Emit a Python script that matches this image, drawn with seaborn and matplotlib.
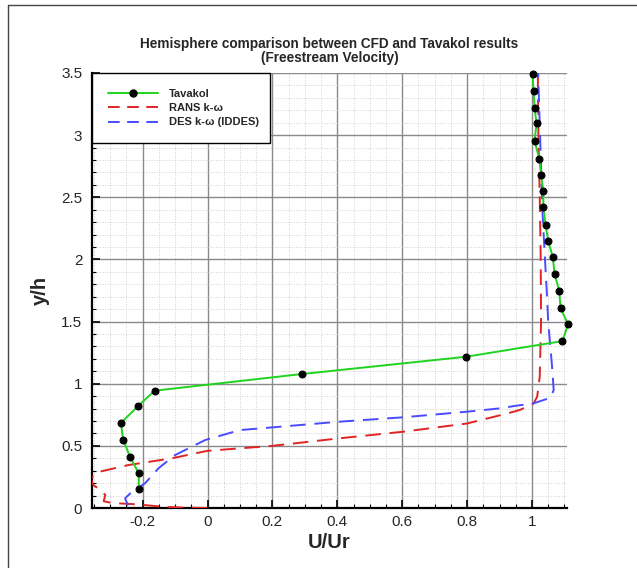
import numpy as np
import pandas as pd
import matplotlib
matplotlib.use("Agg")
import matplotlib.pyplot as plt
from matplotlib.ticker import MultipleLocator, FuncFormatter
from matplotlib.lines import Line2D
import seaborn as sns

# Tavakol measured profile (U/Ur, y/h)
tav_u = [1.002, 1.005, 1.008, 1.014, 1.008, 1.023, 1.028, 1.035, 1.035, 1.042,
         1.050, 1.064, 1.070, 1.084, 1.088, 1.111, 1.094, 0.797, 0.291, -0.163,
         -0.214, -0.267, -0.260, -0.239, -0.212, -0.212]
tav_y = [3.49, 3.355, 3.22, 3.095, 2.95, 2.81, 2.68, 2.55, 2.42, 2.28,
         2.15, 2.02, 1.88, 1.75, 1.61, 1.478, 1.343, 1.217, 1.078, 0.944,
         0.82, 0.684, 0.55, 0.413, 0.279, 0.15]

# RANS k-omega profile
rans_u = [0.0, -0.07, -0.14, -0.22, -0.295, -0.32, -0.315, -0.336, -0.352, -0.36,
          -0.336, -0.243, -0.11, 0.0, 0.2, 0.404, 0.604, 0.80, 0.90, 0.944,
          0.964, 1.005, 1.016, 1.024, 1.028, 1.027, 1.024, 1.020, 1.018]
rans_y = [0.0, 0.003, 0.01, 0.03, 0.04, 0.055, 0.105, 0.155, 0.185, 0.24,
          0.29, 0.346, 0.40, 0.46, 0.50, 0.56, 0.614, 0.68, 0.745, 0.775,
          0.79, 0.842, 0.895, 1.056, 1.5, 2.0, 2.5, 3.0, 3.5]

# DES k-omega (IDDES) profile
des_u = [-0.245, -0.254, -0.238, -0.192, -0.151, -0.10, -0.007, 0.1, 0.224, 0.404,
         0.604, 0.80, 0.903, 0.944, 1.005, 1.057, 1.067, 1.062, 1.050, 1.047,
         1.032, 1.025, 1.019]
des_y = [0.02, 0.078, 0.118, 0.2, 0.32, 0.426, 0.547, 0.627, 0.654, 0.694,
         0.73, 0.775, 0.802, 0.82, 0.842, 0.887, 0.949, 1.137, 1.5, 1.67,
         2.4, 3.0, 3.5]

labels = ["Tavakol", "RANS k-\u03c9", "DES k-\u03c9 (IDDES)"]
x_ticks = [-0.2, 0, 0.2, 0.4, 0.6, 0.8, 1]
y_ticks = [0, 0.5, 1, 1.5, 2, 2.5, 3, 3.5]

sns.set_style("white")
plt.rcParams["font.family"] = ["Liberation Sans", "DejaVu Sans"]

fig = plt.figure(figsize=(6.37, 5.68), dpi=100)
ax = fig.add_axes([92 / 637, 1 - 508 / 568, (567 - 92) / 637, (508 - 73) / 568])

green, red, blue = "#1fd41f", "#e02424", "#4a4aff"
dash = (8, 4.5)
legend_dash = (6, 3.85)

sns.lineplot(x=rans_u, y=rans_y, sort=False, estimator=None, ax=ax,
             color=red, lw=1.4, zorder=3)
ax.lines[-1].set_dashes(dash)
sns.lineplot(x=des_u, y=des_y, sort=False, estimator=None, ax=ax,
             color=blue, lw=1.4, zorder=3)
ax.lines[-1].set_dashes(dash)
sns.lineplot(x=tav_u, y=tav_y, sort=False, estimator=None, ax=ax,
             color=green, lw=1.4, marker="o", markersize=5,
             markerfacecolor="black", markeredgecolor="black", zorder=4)
ax.lines[-1].set_clip_on(False)

ax.set_xlim(-0.356, 1.108)
ax.set_ylim(0, 3.5)
ax.set_xticks(x_ticks)
ax.set_yticks(y_ticks)
ax.xaxis.set_minor_locator(MultipleLocator(0.05))
ax.yaxis.set_minor_locator(MultipleLocator(0.1))
fmt = FuncFormatter(lambda v, p: ("%g" % v).replace("\u2212", "-"))
ax.xaxis.set_major_formatter(fmt)
ax.yaxis.set_major_formatter(fmt)

ax.grid(which="major", color="#8a8a8a", lw=1.0, ls="-", zorder=1)
ax.grid(which="minor", color="#cfcfcf", lw=0.7, ls=":", zorder=1)
ax.set_axisbelow(True)

for s in ["top", "right"]:
    ax.spines[s].set_visible(False)
for s in ["left", "bottom"]:
    ax.spines[s].set_color("black")
    ax.spines[s].set_linewidth(1.6)

ax.tick_params(which="major", direction="in", length=6, width=1.2, color="black",
               labelsize=11, pad=5, bottom=True, left=True)
ax.tick_params(which="minor", direction="in", length=3, width=0.8, color="black",
               bottom=True, left=True)
ax.tick_params(axis="y", pad=7)

ax.set_xlabel("U/Ur", fontsize=14.5, fontweight="bold", labelpad=3)
ax.set_ylabel("y/h", fontsize=14.5, fontweight="bold", labelpad=8)
ax.set_title("Hemisphere comparison between CFD and Tavakol results\n(Freestream Velocity)",
             fontsize=9.8, fontweight="bold", pad=8, linespacing=0.95)

handles = [
    Line2D([], [], color=green, lw=1.4, marker="o", markersize=5,
           markerfacecolor="black", markeredgecolor="black"),
    Line2D([], [], color=red, lw=1.4, dashes=legend_dash),
    Line2D([], [], color=blue, lw=1.4, dashes=legend_dash),
]
leg = ax.legend(handles, labels, loc="upper left", bbox_to_anchor=(0, 1, 0.375, 0),
                mode="expand", borderaxespad=0, frameon=True, fancybox=False,
                framealpha=1, edgecolor="black", handlelength=4.5, handletextpad=1.0,
                labelspacing=0.4, borderpad=1.4, numpoints=1,
                prop={"weight": "bold", "size": 8})
leg.get_frame().set_linewidth(1.0)
leg.set_zorder(10)

# outer frame around the figure
fig.add_artist(Line2D([8 / 637, 8 / 637], [0, 1 - 5 / 568], transform=fig.transFigure,
                      color="#444444", lw=1.0))
fig.add_artist(Line2D([8 / 637, 1], [1 - 5 / 568, 1 - 5 / 568], transform=fig.transFigure,
                      color="#444444", lw=1.0))

fig.savefig("out.png", dpi=100)
